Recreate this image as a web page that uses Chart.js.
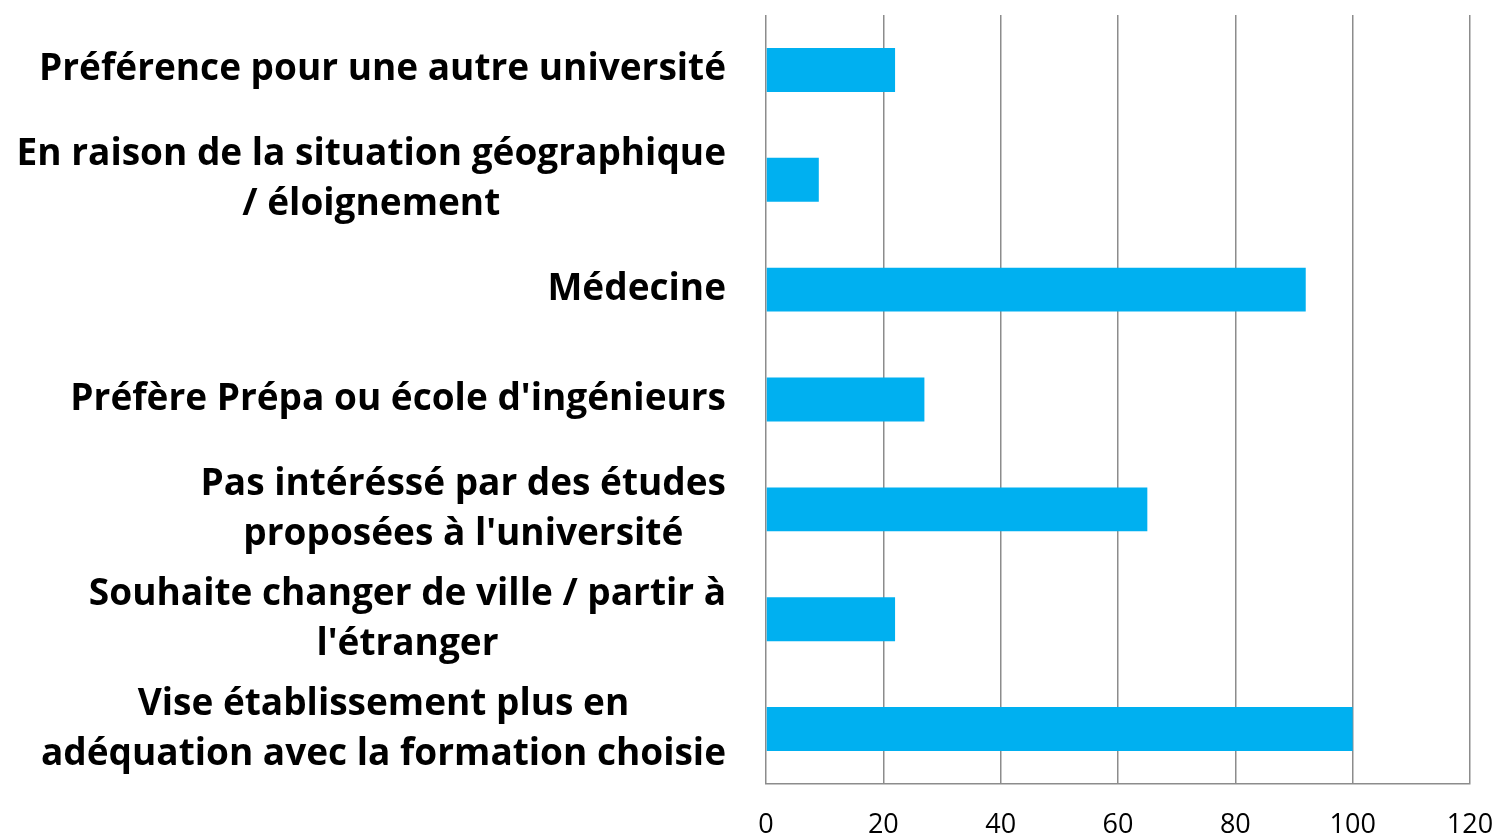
<!DOCTYPE html>
<html>
<head>
<meta charset="utf-8">
<script src="https://cdn.jsdelivr.net/npm/chart.js@4"></script>
<style>
  body { margin: 0; background: #fff; }
  canvas { display: block; }
</style>
</head>
<body>
<canvas id="raisonsChart" width="1495" height="835"></canvas>
<script>
// Catégories (une ligne par élément du tableau interne)
const categories = [
    ['Préférence pour une autre université'],
    ['En raison de la situation géographique', '/ éloignement'],
    ['Médecine'],
    ["Préfère Prépa ou école d'ingénieurs"],
    ['Pas intéréssé par des études', "proposées à l'université"],
    ["Souhaite changer de ville / partir à", "l'étranger"],
    ['Vise établissement plus en', 'adéquation avec la formation choisie']
];
const values = [22, 9, 92, 27, 65, 22, 100];
const xTicks = [0, 20, 40, 60, 80, 100, 120];

// Étiquettes de l'axe Y : bloc aligné à droite, lignes centrées dans le bloc
const labelPlugin = {
    id: 'blockLabels',
    afterDraw: function(chart) {
        const ctx = chart.ctx;
        const yScale = chart.scales.y;
        const rightEdge = chart.chartArea.left - 40;
        const lineHeight = 50;
        ctx.save();
        ctx.font = 'bold 37px "Open Sans"';
        ctx.fillStyle = '#000';
        ctx.textBaseline = 'middle';
        ctx.textAlign = 'center';
        categories.forEach(function(lines, i) {
            const y = yScale.getPixelForValue(i);
            const blockW = Math.max.apply(null, lines.map(l => ctx.measureText(l).width));
            const cx = rightEdge - blockW / 2;
            const startY = y - (lines.length - 1) * lineHeight / 2;
            lines.forEach(function(l, j) {
                ctx.fillText(l, cx, startY + j * lineHeight);
            });
        });
        ctx.restore();
    }
};

const ctx = document.getElementById('raisonsChart').getContext('2d');
const raisonsChart = new Chart(ctx, {
    type: 'bar',
    data: {
        labels: categories.map(l => l.join(' ')),
        datasets: [{
            data: values,
            backgroundColor: '#00b0f0',
            barPercentage: 0.8,
            categoryPercentage: 0.5
        }]
    },
    options: {
        indexAxis: 'y',
        responsive: false,
        animation: false,
        layout: {
            padding: { left: 766, right: 25, top: 15, bottom: 0 }
        },
        plugins: {
            legend: { display: false },
            tooltip: { enabled: false }
        },
        scales: {
            x: {
                min: 0,
                max: 120,
                afterBuildTicks: function(axis) {
                    axis.ticks = xTicks.map(v => ({ value: v }));
                },
                afterFit: function(axis) {
                    axis.height = 51;
                    axis.paddingLeft = 0;
                    axis.paddingRight = 0;
                },
                grid: {
                    color: '#8c8c8c',
                    lineWidth: 1.5,
                    drawTicks: false
                },
                border: { color: '#8c8c8c', width: 1.5 },
                ticks: {
                    color: '#000',
                    padding: 25,
                    font: { family: '"Open Sans"', size: 27 }
                }
            },
            y: {
                display: false
            }
        }
    },
    plugins: [labelPlugin]
});
</script>
</body>
</html>
